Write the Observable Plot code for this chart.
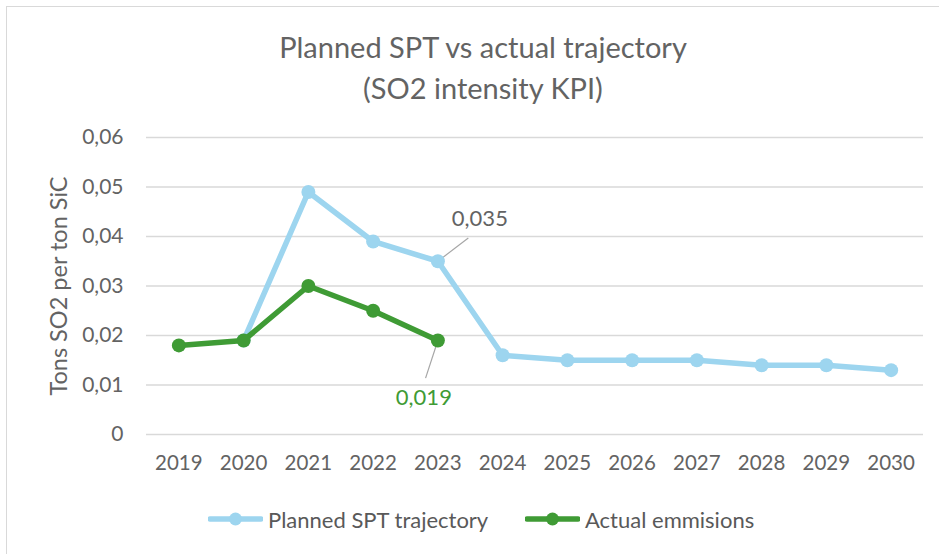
<!DOCTYPE html>
<html>
<head>
<meta charset="utf-8">
<script src="https://cdn.jsdelivr.net/npm/d3@7"></script>
<script src="https://cdn.jsdelivr.net/npm/@observablehq/plot@0.6"></script>
<style>
  html, body { margin: 0; padding: 0; background: #fff; }
  #wrap { position: relative; width: 939px; height: 554px; overflow: hidden; font-family: Lato, "Open Sans", sans-serif; color: #595959; }
  #frame { position: absolute; left: 6px; top: 6px; width: 960px; height: 600px; border: 1.5px solid #d9d9d9; box-sizing: border-box; }
  #title { position: absolute; left: 0; width: 966px; top: 26px; text-align: center; font-size: 29px; line-height: 41px; color: #636363; }
  #chart { position: absolute; left: 0; top: 0; }
  #legend { position: absolute; top: 505px; left: 0; width: 939px; height: 28px; font-size: 22px; }
  .item { position: absolute; top: 0; display: flex; align-items: center; height: 28px; }
  .item svg { margin-right: 5px; }
</style>
</head>
<body>
<div id="wrap">
  <div id="frame"></div>
  <div id="title">Planned SPT vs actual trajectory<br>(SO2 intensity KPI)</div>
  <div id="chart"></div>
  <div id="legend"></div>
</div>
<script>
// ---- data ----
const years = [2019, 2020, 2021, 2022, 2023, 2024, 2025, 2026, 2027, 2028, 2029, 2030];
const plannedYears = [2020, 2021, 2022, 2023, 2024, 2025, 2026, 2027, 2028, 2029, 2030];
const plannedValues = [0.019, 0.049, 0.039, 0.035, 0.016, 0.015, 0.015, 0.015, 0.014, 0.014, 0.013];
const actualYears = [2019, 2020, 2021, 2022, 2023];
const actualValues = [0.018, 0.019, 0.030, 0.025, 0.019];
const yTicks = [0, 0.01, 0.02, 0.03, 0.04, 0.05, 0.06];
const seriesNames = ["Planned SPT trajectory", "Actual emmisions"];
const seriesColors = ["#9dd5ef", "#3f9b35"];
const labelPlanned = {year: 2023, value: 0.035, text: "0,035"};
const labelActual = {year: 2023, value: 0.019, text: "0,019"};

const planned = plannedYears.map((y, i) => ({year: y, value: plannedValues[i]}));
const actual = actualYears.map((y, i) => ({year: y, value: actualValues[i]}));

const fmt = d => d === 0 ? "0" : d.toFixed(2).replace(".", ",");

const chart = Plot.plot({
  width: 939,
  height: 554,
  marginTop: 137,
  marginBottom: 120,
  marginLeft: 146,
  marginRight: 16,
  style: {fontFamily: "Lato, 'Open Sans', sans-serif", fontSize: "20px", color: "#636363", background: "transparent", overflow: "visible"},
  x: {domain: [2018.5, 2030.5], ticks: years, tickFormat: d => String(d), tickSize: 0, tickPadding: 22, label: null},
  y: {domain: [0, 0.06], ticks: yTicks, tickFormat: fmt, tickSize: 0, tickPadding: 23, label: null},
  marks: [
    Plot.gridY(yTicks, {stroke: "#d9d9d9", strokeOpacity: 1, strokeWidth: 1.5}),
    Plot.axisX({ticks: years, tickFormat: d => String(d), tickSize: 0, tickPadding: 21, fontSize: 20.5, fill: "#636363", label: null}),
    Plot.axisY({ticks: yTicks, tickFormat: fmt, tickSize: 0, tickPadding: 23, fontSize: 21, fill: "#636363", label: null}),
    Plot.text(["Tons SO2 per ton SiC"], {frameAnchor: "left", textAnchor: "middle", rotate: -90, dx: -87, fontSize: 23.5, fill: "#636363"}),
    // leader lines
    Plot.link([labelPlanned], {x1: "year", y1: "value", x2: d => d.year + 0.47, y2: d => d.value + 0.0047, stroke: "#a6a6a6", strokeWidth: 1.2}),
    Plot.link([labelActual], {x1: "year", y1: "value", x2: d => d.year - 0.19, y2: d => d.value - 0.0076, stroke: "#a6a6a6", strokeWidth: 1.2}),
    // series
    Plot.line(planned, {x: "year", y: "value", stroke: seriesColors[0], strokeWidth: 5.5}),
    Plot.dot(planned, {x: "year", y: "value", r: 7, fill: seriesColors[0]}),
    Plot.line(actual, {x: "year", y: "value", stroke: seriesColors[1], strokeWidth: 5.5}),
    Plot.dot(actual, {x: "year", y: "value", r: 7, fill: seriesColors[1]}),
    // labels
    Plot.text([labelPlanned], {x: "year", y: "value", text: "text", dx: 42, dy: -42, fontSize: 22, fill: "#636363"}),
    Plot.text([labelActual], {x: "year", y: "value", text: "text", dx: -14, dy: 58, fontSize: 22, fill: seriesColors[1]})
  ]
});
document.getElementById("chart").appendChild(chart);

// legend
const legend = document.getElementById("legend");
const lefts = [208, 525];
seriesNames.forEach((name, i) => {
  const item = document.createElement("div");
  item.className = "item";
  item.style.left = lefts[i] + "px";
  item.innerHTML = `<svg width="55" height="16"><line x1="2" y1="8" x2="53" y2="8" stroke="${seriesColors[i]}" stroke-width="5.5" stroke-linecap="round"/><circle cx="27.5" cy="8" r="6.5" fill="${seriesColors[i]}"/></svg><span>${name}</span>`;
  legend.appendChild(item);
});
</script>
</body>
</html>
